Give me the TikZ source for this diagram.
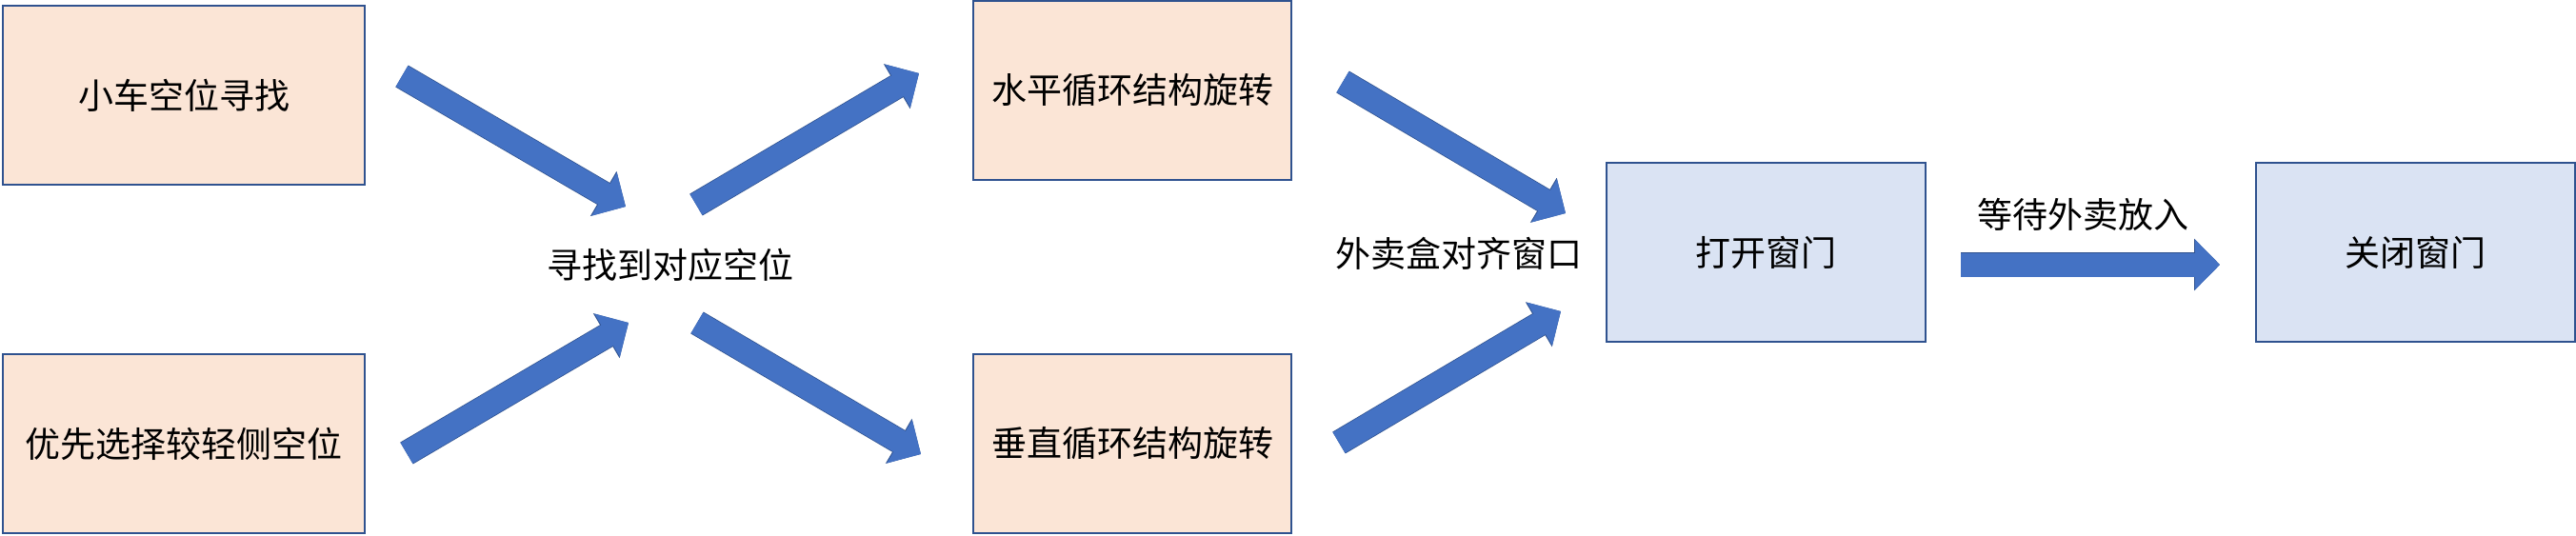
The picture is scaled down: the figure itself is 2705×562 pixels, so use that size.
\documentclass[tikz,border=0pt]{standalone}
\usepackage{fontspec}
\newfontfamily\cjk{Noto Sans CJK SC}
\usetikzlibrary{arrows.meta}
\definecolor{boxedge}{HTML}{2F528F}
\definecolor{peach}{HTML}{FBE5D6}
\definecolor{paleblue}{HTML}{DAE3F3}
\definecolor{arrowblue}{HTML}{4472C4}

\begin{document}
\begin{tikzpicture}[
    x=1pt, y=-1pt,
    txt/.style={font=\cjk\fontsize{37}{40}\selectfont, inner sep=0pt},
    stepbox/.style={txt, draw=boxedge, line width=2pt, minimum height=188pt},
    warm/.style={stepbox, fill=peach},
    cool/.style={stepbox, fill=paleblue, minimum width=335pt},
    bigarrow/.style={draw=arrowblue, line width=25pt, -{Triangle[length=26pt, width=51pt]},
      preaction={draw=boxedge, line width=26.5pt, -{Triangle[length=27pt, width=53pt]}}}
]

\useasboundingbox (0,0) rectangle (2705,562);

\node[warm, minimum width=380pt] (seek) at (193,100) {小车空位寻找};
\node[warm, minimum width=380pt] (light) at (193,466) {优先选择较轻侧空位};
\node[txt] (found) at (704,278) {寻找到对应空位};
\node[warm, minimum width=334pt] (hrot) at (1189,95) {水平循环结构旋转};
\node[warm, minimum width=334pt] (vrot) at (1189,466) {垂直循环结构旋转};
\node[txt] (align) at (1532,266) {外卖盒对齐窗口};
\node[cool] (open) at (1854,265) {打开窗门};
\node[txt] (wait) at (2187,225) {等待外卖放入};
\node[cool] (close) at (2536,265) {关闭窗门};

% tails and heads of the block arrows
\coordinate (t1) at (422,80);   \coordinate (h1) at (657,217);
\coordinate (t2) at (731,215);  \coordinate (h2) at (965,77);
\coordinate (t3) at (427,476);  \coordinate (h3) at (660,339);
\coordinate (t4) at (732,339);  \coordinate (h4) at (967,477);
\coordinate (t5) at (1410,86);  \coordinate (h5) at (1644,224);
\coordinate (t6) at (1406,465); \coordinate (h6) at (1639,327);
\coordinate (t7) at (2059,278); \coordinate (h7) at (2331,278);

\foreach \i in {1,...,7}
  \draw[bigarrow] (t\i) -- (h\i);

\end{tikzpicture}
\end{document}
